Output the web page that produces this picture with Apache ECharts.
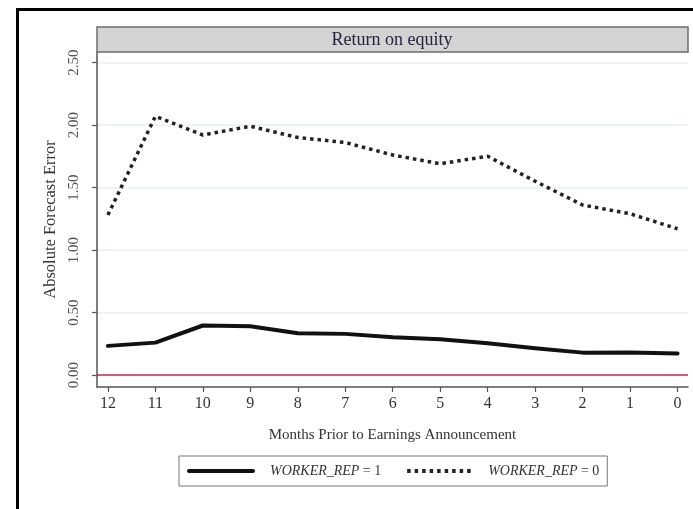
<!DOCTYPE html>
<html>
<head>
<meta charset="utf-8">
<script src="https://cdn.jsdelivr.net/npm/echarts@6/dist/echarts.min.js"></script>
<style>
  html, body { margin: 0; padding: 0; background: #fff; }
  #chart { width: 693px; height: 509px; }
</style>
</head>
<body>
<div id="chart"></div>
<script>
// Months before the earnings announcement (x) and mean absolute forecast error (y)
const months = [12, 11, 10, 9, 8, 7, 6, 5, 4, 3, 2, 1, 0];
const workerRep1 = [0.233, 0.259, 0.396, 0.390, 0.334, 0.329, 0.302, 0.286, 0.254, 0.214, 0.179, 0.180, 0.172];
const workerRep0 = [1.28, 2.07, 1.92, 1.99, 1.90, 1.86, 1.76, 1.69, 1.75, 1.55, 1.36, 1.29, 1.17];
const yTicks = [0, 0.5, 1, 1.5, 2, 2.5];
const xTicks = [12, 11, 10, 9, 8, 7, 6, 5, 4, 3, 2, 1, 0];
const panelTitle = 'Return on equity';

const SERIF = '"Liberation Serif", "DejaVu Serif", serif';

const pairs = vals => months.map((m, i) => [m, vals[i]]);

const chart = echarts.init(document.getElementById('chart'), null, { renderer: 'canvas' });

chart.setOption({
  backgroundColor: '#ffffff',
  animation: false,
  grid: { left: 97, right: 5, top: 52, bottom: 122 },
  xAxis: {
    type: 'value',
    inverse: true,
    min: -0.22,
    max: 12.23,
    name: 'Months Prior to Earnings Announcement',
    nameLocation: 'middle',
    nameGap: 41,
    nameTextStyle: { fontFamily: SERIF, fontSize: 15, color: '#333' },
    axisLine: { show: true, onZero: false, lineStyle: { color: '#555', width: 1.5 } },
    axisTick: { show: true, length: 5, customValues: xTicks, lineStyle: { color: '#555', width: 1.2 } },
    axisLabel: { customValues: xTicks, fontFamily: SERIF, fontSize: 16, color: '#333', margin: 9 },
    splitLine: { show: false }
  },
  yAxis: {
    type: 'value',
    position: 'left',
    min: -0.096,
    max: 2.584,
    name: 'Absolute Forecast Error',
    nameLocation: 'middle',
    nameGap: 32,
    nameTextStyle: { fontFamily: SERIF, fontSize: 16.5, color: '#333' },
    axisLine: { show: true, onZero: false, lineStyle: { color: '#555', width: 1.5 } },
    axisTick: { show: true, length: 5, customValues: yTicks, lineStyle: { color: '#555', width: 1.2 } },
    axisLabel: {
      customValues: yTicks, rotate: 90, fontFamily: SERIF, fontSize: 15, color: '#555', margin: 15,
      formatter: v => v.toFixed(2)
    },
    splitLine: { show: true, lineStyle: { color: '#e8f0f1', width: 1.5 } }
  },
  legend: {
    left: 179,
    top: 456,
    orient: 'horizontal',
    padding: [8, 8, 8, 8],
    itemGap: 24,
    itemWidth: 64,
    itemHeight: 14,
    borderColor: '#777',
    borderWidth: 1,
    itemStyle: { opacity: 0 },
    lineStyle: { width: 4 },
    data: ['WORKER_REP = 1', 'WORKER_REP = 0'],
    formatter: name => '{i|WORKER_REP} {r|' + name.slice(name.indexOf('=')) + '}',
    textStyle: {
      rich: {
        i: { fontFamily: SERIF, fontStyle: 'italic', fontSize: 14, color: '#333', padding: [0, 0, 0, 12] },
        r: { fontFamily: SERIF, fontSize: 14, color: '#333' }
      }
    }
  },
  graphic: [
    // outer frame
    { type: 'rect', left: 15, top: 7, shape: { x: 0, y: 0, width: 700, height: 520 },
      style: { fill: 'none', stroke: '#000', lineWidth: 3 }, silent: true, z: 0 },
    // panel heading strip
    { type: 'rect', shape: { x: 97, y: 27, width: 591, height: 25 },
      style: { fill: '#d3d3d3', stroke: '#6e6e6e', lineWidth: 1.5 }, silent: true, z: 10 },
    { type: 'text', x: 392, y: 40,
      style: { text: panelTitle, fontFamily: SERIF, fontSize: 18, fill: '#22243f', align: 'center', verticalAlign: 'middle' },
      silent: true, z: 11 }
  ],
  series: [
    {
      name: 'WORKER_REP = 1',
      type: 'line',
      data: pairs(workerRep1),
      symbol: 'none',
      lineStyle: { color: '#111', width: 4, cap: 'round', join: 'round' },
      itemStyle: { color: '#111' },
      z: 3,
      markLine: {
        silent: true,
        symbol: 'none',
        label: { show: false },
        lineStyle: { color: '#cc2a4a', width: 1.5, type: 'solid' },
        data: [{ yAxis: 0 }]
      }
    },
    {
      name: 'WORKER_REP = 0',
      type: 'line',
      data: pairs(workerRep0),
      symbol: 'none',
      lineStyle: { color: '#222', width: 3.5, type: [3.5, 4], cap: 'butt' },
      itemStyle: { color: '#222' },
      z: 3
    }
  ]
});
</script>
</body>
</html>
